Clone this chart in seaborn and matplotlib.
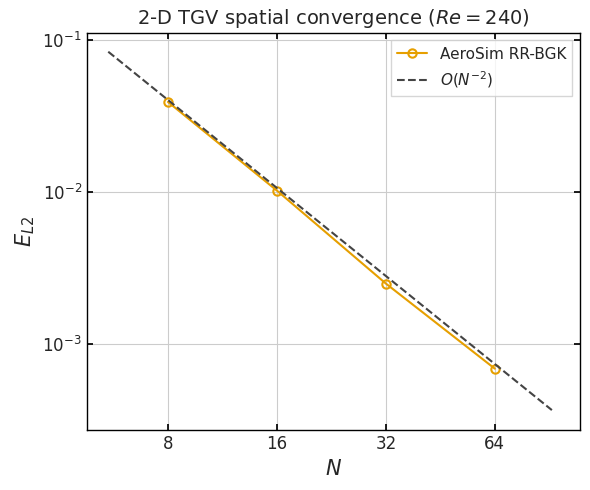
import numpy as np
import pandas as pd
import matplotlib
matplotlib.use("Agg")
import matplotlib.pyplot as plt
from matplotlib.ticker import FixedLocator, NullLocator, FixedFormatter
import seaborn as sns

# data
n_vals = [8, 16, 32, 64]
err_vals = [0.039, 0.0102, 0.0025, 0.00069]
ref_n = [5.47, 92]
ref_err = [0.0834, 0.000295 * 1.25]

sns.set_theme(style="whitegrid")
plt.rcParams["font.family"] = ["DejaVu Sans"]

fig, ax = plt.subplots(figsize=(5.9, 4.9), dpi=100)
fig.subplots_adjust(left=0.147, right=0.983, top=0.933, bottom=0.122)

df = pd.DataFrame({"N": n_vals, "E": err_vals})
ref = pd.DataFrame({"N": ref_n, "E": ref_err})

sns.lineplot(data=df, x="N", y="E", ax=ax, color="#E69F00", marker="o",
             markerfacecolor="none", markeredgecolor="#E69F00", markeredgewidth=1.5,
             markersize=6, label="AeroSim RR-BGK")
sns.lineplot(data=ref, x="N", y="E", ax=ax, color="#444444", linestyle="--",
             label=r"$O(N^{-2})$")

ax.set_xscale("log", base=2)
ax.set_yscale("log")
ax.set_xlim(4.77, 110)
ax.set_ylim(0.000272, 0.111)
ax.xaxis.set_major_locator(FixedLocator(n_vals))
ax.xaxis.set_major_formatter(FixedFormatter([str(v) for v in n_vals]))
ax.xaxis.set_minor_locator(NullLocator())
ax.yaxis.set_minor_locator(NullLocator())

for s in ax.spines.values():
    s.set_edgecolor("black")
    s.set_linewidth(1.0)
ax.grid(True, which="major", color="#cccccc", linewidth=0.8)
ax.tick_params(which="both", direction="in", top=True, right=True, labelsize=12,
               bottom=True, left=True, length=4, color="black")

ax.set_xlabel(r"$N$", fontsize=15)
ax.set_ylabel(r"$E_{L2}$", fontsize=15)
ax.set_title(r"2-D TGV spatial convergence ($Re = 240$)", fontsize=14)
ax.legend(loc="upper right", fontsize=11, frameon=True, fancybox=False)

fig.savefig("out.png", dpi=100)
